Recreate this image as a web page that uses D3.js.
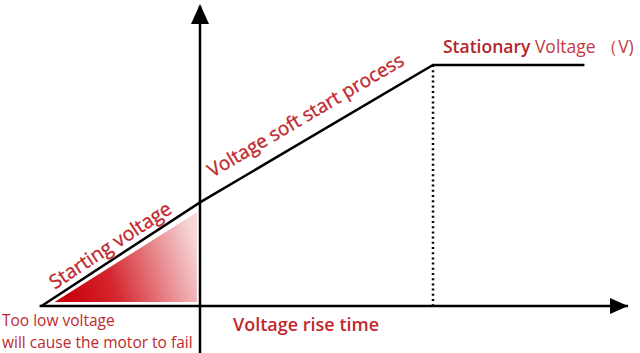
<!DOCTYPE html>
<html>
<head>
<meta charset="utf-8">
<script src="https://cdn.jsdelivr.net/npm/d3@7"></script>
<style>
  html, body { margin: 0; padding: 0; background: #fff; }
  svg text { font-family: "Open Sans", "Noto Sans", sans-serif; }
</style>
</head>
<body>
<div id="chart"></div>
<script>
// curve data (time units relative to the start of the soft start, voltage in % of stationary)
var timePoints = [-6.8, 0, 10, 16.5];
var voltagePoints = [0, 43, 100, 100];

var labels = {
    starting: 'Starting voltage',
    ramp: 'Voltage soft start process',
    stationaryA: 'Stationary',
    stationaryB: ' Voltage （V)',
    xAxis: 'Voltage rise time',
    warn1: 'Too low voltage',
    warn2: 'will cause the motor to fail'
};

var width = 640, height = 353;
var red = '#c0282d';

var svg = d3.select('#chart').append('svg')
    .attr('width', width)
    .attr('height', height);

var x = d3.scaleLinear().domain([0, 10]).range([200, 433]);
var y = d3.scaleLinear().domain([0, 100]).range([306, 65]);

var defs = svg.append('defs');
var grad = defs.append('linearGradient')
    .attr('id', 'fade')
    .attr('x1', '0%').attr('y1', '60%')
    .attr('x2', '100%').attr('y2', '40%');
grad.append('stop').attr('offset', '0%').attr('stop-color', '#c8000a');
grad.append('stop').attr('offset', '35%').attr('stop-color', '#d5262e');
grad.append('stop').attr('offset', '100%').attr('stop-color', '#f6d6d8');

// shaded starting triangle
var t0 = timePoints[0], t1 = timePoints[1];
svg.append('path')
    .attr('d', 'M' + (x(t0) + 13) + ',' + (y(0) - 4) +
        'L' + (x(t1) - 3) + ',' + (y(voltagePoints[1]) + 10) +
        'L' + (x(t1) - 3) + ',' + (y(0) - 4) + 'Z')
    .attr('fill', 'url(#fade)');

// axes
svg.append('line')
    .attr('x1', x(t0) - 2).attr('y1', y(0))
    .attr('x2', 628).attr('y2', y(0))
    .attr('stroke', '#000').attr('stroke-width', 2.5);
svg.append('path')
    .attr('d', 'M610,298 L628,306 L610,314 Z')
    .attr('fill', '#000');

svg.append('line')
    .attr('x1', x(0)).attr('y1', 353)
    .attr('x2', x(0)).attr('y2', 6)
    .attr('stroke', '#000').attr('stroke-width', 2.5);
svg.append('path')
    .attr('d', 'M' + (x(0) - 9) + ',24 L' + x(0) + ',4 L' + (x(0) + 9) + ',24 Z')
    .attr('fill', '#000');

// dotted guide at end of ramp
svg.append('line')
    .attr('x1', x(timePoints[2])).attr('y1', y(voltagePoints[2]))
    .attr('x2', x(timePoints[2])).attr('y2', y(0))
    .attr('stroke', '#000').attr('stroke-width', 2.5)
    .attr('stroke-dasharray', '2,3.2');

// voltage curve
var pts = timePoints.map(function (t, i) { return [t, voltagePoints[i]]; });
var line = d3.line()
    .x(function (d) { return x(d[0]); })
    .y(function (d) { return y(d[1]); });
svg.append('path')
    .datum(pts)
    .attr('d', line)
    .attr('fill', 'none')
    .attr('stroke', '#000')
    .attr('stroke-width', 2.5);

// slanted labels
function slope(a, b) {
    return Math.atan2(y(voltagePoints[b]) - y(voltagePoints[a]), x(timePoints[b]) - x(timePoints[a])) * 180 / Math.PI;
}

svg.append('text')
    .attr('transform', 'translate(114,251) rotate(' + slope(0, 1) + ')')
    .attr('text-anchor', 'middle')
    .attr('fill', red)
    .attr('stroke', red).attr('stroke-width', 0.35)
    .attr('font-size', 19.5)
    .text(labels.starting);

svg.append('text')
    .attr('transform', 'translate(309,121) rotate(' + slope(1, 2) + ')')
    .attr('text-anchor', 'middle')
    .attr('fill', red)
    .attr('stroke', red).attr('stroke-width', 0.35)
    .attr('font-size', 19)
    .text(labels.ramp);

var st = svg.append('text')
    .attr('x', 443).attr('y', 53)
    .attr('font-size', 17.5);
st.append('tspan').attr('fill', '#b3262b').attr('font-weight', 600).text(labels.stationaryA);
st.append('tspan').attr('fill', '#c23a40').text(labels.stationaryB);

svg.append('text')
    .attr('x', 233).attr('y', 331)
    .attr('fill', red)
    .attr('font-size', 18)
    .attr('font-weight', 600)
    .text(labels.xAxis);

svg.append('text')
    .attr('x', 2).attr('y', 326)
    .attr('fill', red)
    .attr('font-size', 15.5)
    .text(labels.warn1);
svg.append('text')
    .attr('x', 2).attr('y', 348)
    .attr('fill', red)
    .attr('font-size', 15.5)
    .text(labels.warn2);
</script>
</body>
</html>
